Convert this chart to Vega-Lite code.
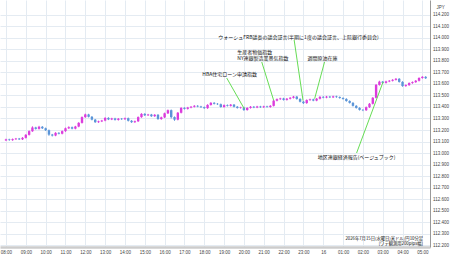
{
  "$schema": "https://vega.github.io/schema/vega-lite/v6.json",
  "width": 430,
  "height": 247,
  "autosize": {"type": "none"},
  "padding": {"left": 0, "top": 0, "right": 20, "bottom": 11},
  "background": "#ffffff",
  "config": {
    "view": {"stroke": null},
    "font": "Noto Sans CJK JP",
    "axis": {"labelFont": "Liberation Sans", "titleFont": "Liberation Sans", "labelOverlap": false, "labelSeparation": 0, "labelFlush": false, "tickCount": 40}
  },
  "datasets": {
    "candles": [
      {"t":480,"o":113.110,"h":113.124,"l":113.104,"c":113.118},
      {"t":490,"o":113.118,"h":113.124,"l":113.106,"c":113.112},
      {"t":500,"o":113.112,"h":113.126,"l":113.106,"c":113.120},
      {"t":510,"o":113.120,"h":113.131,"l":113.114,"c":113.125},
      {"t":520,"o":113.125,"h":113.131,"l":113.113,"c":113.119},
      {"t":530,"o":113.119,"h":113.138,"l":113.113,"c":113.132},
      {"t":540,"o":113.132,"h":113.164,"l":113.126,"c":113.158},
      {"t":550,"o":113.158,"h":113.196,"l":113.152,"c":113.190},
      {"t":560,"o":113.190,"h":113.232,"l":113.184,"c":113.222},
      {"t":570,"o":113.222,"h":113.228,"l":113.204,"c":113.210},
      {"t":580,"o":113.210,"h":113.236,"l":113.204,"c":113.228},
      {"t":590,"o":113.228,"h":113.234,"l":113.209,"c":113.215},
      {"t":600,"o":113.215,"h":113.221,"l":113.192,"c":113.198},
      {"t":610,"o":113.198,"h":113.204,"l":113.150,"c":113.160},
      {"t":620,"o":113.160,"h":113.166,"l":113.144,"c":113.152},
      {"t":630,"o":113.152,"h":113.181,"l":113.146,"c":113.175},
      {"t":640,"o":113.175,"h":113.181,"l":113.162,"c":113.168},
      {"t":650,"o":113.168,"h":113.196,"l":113.162,"c":113.190},
      {"t":660,"o":113.190,"h":113.221,"l":113.184,"c":113.215},
      {"t":670,"o":113.215,"h":113.232,"l":113.209,"c":113.224},
      {"t":680,"o":113.224,"h":113.230,"l":113.206,"c":113.212},
      {"t":690,"o":113.212,"h":113.236,"l":113.206,"c":113.230},
      {"t":700,"o":113.230,"h":113.268,"l":113.224,"c":113.262},
      {"t":710,"o":113.262,"h":113.318,"l":113.256,"c":113.312},
      {"t":720,"o":113.312,"h":113.342,"l":113.306,"c":113.335},
      {"t":730,"o":113.335,"h":113.341,"l":113.309,"c":113.315},
      {"t":740,"o":113.315,"h":113.321,"l":113.284,"c":113.290},
      {"t":750,"o":113.290,"h":113.296,"l":113.262,"c":113.268},
      {"t":760,"o":113.268,"h":113.281,"l":113.262,"c":113.275},
      {"t":770,"o":113.275,"h":113.288,"l":113.269,"c":113.282},
      {"t":780,"o":113.282,"h":113.311,"l":113.276,"c":113.305},
      {"t":790,"o":113.305,"h":113.311,"l":113.286,"c":113.292},
      {"t":800,"o":113.292,"h":113.306,"l":113.286,"c":113.300},
      {"t":810,"o":113.300,"h":113.306,"l":113.282,"c":113.288},
      {"t":820,"o":113.288,"h":113.304,"l":113.282,"c":113.298},
      {"t":830,"o":113.298,"h":113.304,"l":113.288,"c":113.294},
      {"t":840,"o":113.294,"h":113.308,"l":113.288,"c":113.302},
      {"t":850,"o":113.302,"h":113.308,"l":113.274,"c":113.280},
      {"t":860,"o":113.280,"h":113.286,"l":113.262,"c":113.268},
      {"t":870,"o":113.268,"h":113.282,"l":113.262,"c":113.276},
      {"t":880,"o":113.276,"h":113.318,"l":113.270,"c":113.312},
      {"t":890,"o":113.312,"h":113.346,"l":113.306,"c":113.340},
      {"t":900,"o":113.340,"h":113.346,"l":113.322,"c":113.328},
      {"t":910,"o":113.328,"h":113.340,"l":113.322,"c":113.334},
      {"t":920,"o":113.334,"h":113.340,"l":113.314,"c":113.320},
      {"t":930,"o":113.320,"h":113.338,"l":113.314,"c":113.332},
      {"t":940,"o":113.332,"h":113.338,"l":113.289,"c":113.295},
      {"t":950,"o":113.295,"h":113.316,"l":113.289,"c":113.310},
      {"t":960,"o":113.310,"h":113.351,"l":113.304,"c":113.345},
      {"t":970,"o":113.345,"h":113.378,"l":113.339,"c":113.372},
      {"t":980,"o":113.372,"h":113.378,"l":113.300,"c":113.312},
      {"t":990,"o":113.312,"h":113.318,"l":113.280,"c":113.290},
      {"t":1000,"o":113.290,"h":113.356,"l":113.284,"c":113.350},
      {"t":1010,"o":113.350,"h":113.398,"l":113.344,"c":113.392},
      {"t":1020,"o":113.392,"h":113.398,"l":113.378,"c":113.384},
      {"t":1030,"o":113.384,"h":113.401,"l":113.378,"c":113.395},
      {"t":1040,"o":113.395,"h":113.408,"l":113.389,"c":113.402},
      {"t":1050,"o":113.402,"h":113.416,"l":113.396,"c":113.410},
      {"t":1060,"o":113.410,"h":113.416,"l":113.398,"c":113.404},
      {"t":1070,"o":113.404,"h":113.410,"l":113.392,"c":113.398},
      {"t":1080,"o":113.398,"h":113.404,"l":113.384,"c":113.390},
      {"t":1090,"o":113.390,"h":113.424,"l":113.384,"c":113.418},
      {"t":1100,"o":113.418,"h":113.442,"l":113.412,"c":113.436},
      {"t":1110,"o":113.436,"h":113.442,"l":113.422,"c":113.428},
      {"t":1120,"o":113.428,"h":113.434,"l":113.418,"c":113.424},
      {"t":1130,"o":113.424,"h":113.430,"l":113.394,"c":113.400},
      {"t":1140,"o":113.400,"h":113.422,"l":113.394,"c":113.416},
      {"t":1150,"o":113.416,"h":113.422,"l":113.404,"c":113.410},
      {"t":1160,"o":113.410,"h":113.426,"l":113.404,"c":113.420},
      {"t":1170,"o":113.420,"h":113.426,"l":113.396,"c":113.402},
      {"t":1180,"o":113.402,"h":113.408,"l":113.386,"c":113.392},
      {"t":1190,"o":113.392,"h":113.402,"l":113.386,"c":113.396},
      {"t":1200,"o":113.396,"h":113.402,"l":113.366,"c":113.374},
      {"t":1210,"o":113.374,"h":113.398,"l":113.368,"c":113.392},
      {"t":1220,"o":113.392,"h":113.408,"l":113.386,"c":113.402},
      {"t":1230,"o":113.402,"h":113.408,"l":113.390,"c":113.396},
      {"t":1240,"o":113.396,"h":113.410,"l":113.390,"c":113.404},
      {"t":1250,"o":113.404,"h":113.410,"l":113.392,"c":113.398},
      {"t":1260,"o":113.398,"h":113.411,"l":113.392,"c":113.405},
      {"t":1270,"o":113.405,"h":113.411,"l":113.394,"c":113.400},
      {"t":1280,"o":113.400,"h":113.416,"l":113.394,"c":113.410},
      {"t":1290,"o":113.410,"h":113.461,"l":113.404,"c":113.455},
      {"t":1300,"o":113.455,"h":113.474,"l":113.449,"c":113.468},
      {"t":1310,"o":113.468,"h":113.480,"l":113.462,"c":113.474},
      {"t":1320,"o":113.474,"h":113.480,"l":113.456,"c":113.462},
      {"t":1330,"o":113.462,"h":113.478,"l":113.456,"c":113.472},
      {"t":1340,"o":113.472,"h":113.486,"l":113.466,"c":113.480},
      {"t":1350,"o":113.480,"h":113.496,"l":113.474,"c":113.490},
      {"t":1360,"o":113.490,"h":113.496,"l":113.464,"c":113.470},
      {"t":1370,"o":113.470,"h":113.476,"l":113.440,"c":113.446},
      {"t":1380,"o":113.446,"h":113.452,"l":113.426,"c":113.434},
      {"t":1390,"o":113.434,"h":113.466,"l":113.428,"c":113.460},
      {"t":1400,"o":113.460,"h":113.472,"l":113.454,"c":113.466},
      {"t":1410,"o":113.466,"h":113.472,"l":113.450,"c":113.456},
      {"t":1420,"o":113.456,"h":113.478,"l":113.450,"c":113.472},
      {"t":1430,"o":113.472,"h":113.494,"l":113.466,"c":113.488},
      {"t":1440,"o":113.488,"h":113.494,"l":113.476,"c":113.482},
      {"t":1450,"o":113.482,"h":113.496,"l":113.476,"c":113.490},
      {"t":1460,"o":113.490,"h":113.496,"l":113.478,"c":113.484},
      {"t":1470,"o":113.484,"h":113.498,"l":113.478,"c":113.492},
      {"t":1480,"o":113.492,"h":113.498,"l":113.480,"c":113.486},
      {"t":1490,"o":113.486,"h":113.492,"l":113.472,"c":113.478},
      {"t":1500,"o":113.478,"h":113.484,"l":113.464,"c":113.470},
      {"t":1510,"o":113.470,"h":113.476,"l":113.446,"c":113.452},
      {"t":1520,"o":113.452,"h":113.458,"l":113.430,"c":113.436},
      {"t":1530,"o":113.436,"h":113.442,"l":113.404,"c":113.410},
      {"t":1540,"o":113.410,"h":113.416,"l":113.386,"c":113.392},
      {"t":1550,"o":113.392,"h":113.398,"l":113.369,"c":113.375},
      {"t":1560,"o":113.375,"h":113.381,"l":113.364,"c":113.372},
      {"t":1570,"o":113.372,"h":113.404,"l":113.366,"c":113.398},
      {"t":1580,"o":113.398,"h":113.434,"l":113.392,"c":113.428},
      {"t":1590,"o":113.428,"h":113.486,"l":113.422,"c":113.480},
      {"t":1600,"o":113.480,"h":113.600,"l":113.474,"c":113.592},
      {"t":1610,"o":113.592,"h":113.628,"l":113.586,"c":113.620},
      {"t":1620,"o":113.620,"h":113.626,"l":113.604,"c":113.610},
      {"t":1630,"o":113.610,"h":113.628,"l":113.604,"c":113.622},
      {"t":1640,"o":113.622,"h":113.634,"l":113.616,"c":113.628},
      {"t":1650,"o":113.628,"h":113.642,"l":113.622,"c":113.636},
      {"t":1660,"o":113.636,"h":113.651,"l":113.630,"c":113.645},
      {"t":1670,"o":113.645,"h":113.651,"l":113.612,"c":113.618},
      {"t":1680,"o":113.618,"h":113.624,"l":113.576,"c":113.582},
      {"t":1690,"o":113.582,"h":113.596,"l":113.576,"c":113.590},
      {"t":1700,"o":113.590,"h":113.614,"l":113.584,"c":113.608},
      {"t":1710,"o":113.608,"h":113.622,"l":113.602,"c":113.616},
      {"t":1720,"o":113.616,"h":113.634,"l":113.610,"c":113.628},
      {"t":1730,"o":113.628,"h":113.658,"l":113.622,"c":113.652},
      {"t":1740,"o":113.652,"h":113.668,"l":113.646,"c":113.662},
      {"t":1750,"o":113.662,"h":113.668,"l":113.644,"c":113.650}
    ],
    "links": [
      {"t1":1148,"p1":113.652,"t2":1201,"p2":113.385},
      {"t1":1254,"p1":113.791,"t2":1290,"p2":113.458},
      {"t1":1352,"p1":113.983,"t2":1379,"p2":113.455},
      {"t1":1444,"p1":113.791,"t2":1414,"p2":113.472},
      {"t1":1621,"p1":113.617,"t2":1541,"p2":113.000}
    ],
    "notesCenter": [
      {"t":1157,"p":113.687,"label":"HBA住宅ローン申請指数"},
      {"t":1365,"p":114.009,"label":"ウォーシュFRB議長の議会証言(半期に1度の議会証言、上院銀行委員会)"},
      {"t":1438,"p":113.826,"label":"週間原油在庫"},
      {"t":1541,"p":112.965,"label":"地区連銀経済報告(ベージュブック)"}
    ],
    "notesLeft": [
      {"t":1180,"p":113.874,"label":"生産者物価指数"},
      {"t":1180,"p":113.826,"label":"NY連銀製造業景気指数"}
    ],
    "notesRight": [
      {"t":1742,"p":112.256,"label":"2026年7月15日(水曜日)米ドル/円10分足"},
      {"t":1742,"p":112.205,"label":"[ワテ観測用200pips幅]"}
    ]
  },
  "layer": [
    {
      "data": {"name": "candles"},
      "mark": {"type": "rule", "strokeWidth": 1, "clip": true},
      "encoding": {
        "x": {
          "field": "t", "type": "quantitative",
          "scale": {"domain": [477, 1748], "nice": false, "zero": false},
          "axis": {
            "orient": "bottom", "title": null, "tickCount": 40,
            "values": [480,540,600,660,720,780,840,900,960,1020,1080,1140,1200,1260,1320,1380,1440,1500,1560,1620,1680,1740],
            "labelExpr": "datum.value == 1440 ? '16' : format(floor(datum.value / 60) % 24, '02d') + ':00'",
            "labelFontSize": 4.5, "labelColor": "#444444", "labelPadding": 2,
            "ticks": false, "domainColor": "#cccccc", "domainWidth": 2.5,
            "grid": true, "gridColor": "#e4ebf2", "gridWidth": 1,
            "labelOverlap": false, "labelFlush": false, "labelSeparation": 0
          }
        },
        "y": {
          "field": "l", "type": "quantitative",
          "scale": {"domain": [112.183, 114.33], "nice": false, "zero": false},
          "axis": {
            "orient": "right", "title": "JPY", "tickCount": 40,
            "titleAngle": 0, "titleX": 6, "titleY": 7, "titleAlign": "left", "titleBaseline": "middle",
            "titleFontSize": 4.5, "titleFontWeight": "normal", "titleColor": "#444444",
            "values": [112.2,112.3,112.4,112.5,112.6,112.7,112.8,112.9,113.0,113.1,113.2,113.3,113.4,113.5,113.6,113.7,113.8,113.9,114.0,114.1,114.2],
            "format": ".3f",
            "labelFontSize": 4.5, "labelColor": "#444444", "labelPadding": 2.5,
            "ticks": false, "domainColor": "#999999", "domainWidth": 1,
            "grid": true, "gridColor": "#e4ebf2", "gridWidth": 1,
            "labelOverlap": false, "labelSeparation": 0
          }
        },
        "y2": {"field": "h"},
        "color": {
          "condition": {"test": "datum.c >= datum.o", "value": "#dc3cdc"},
          "value": "#5b95d8"
        }
      }
    },
    {
      "data": {"name": "candles"},
      "mark": {"type": "bar", "size": 2.4, "clip": true},
      "encoding": {
        "x": {"field": "t", "type": "quantitative", "scale": {"domain": [477, 1748], "nice": false, "zero": false}},
        "y": {"field": "o", "type": "quantitative", "scale": {"domain": [112.183, 114.33], "nice": false, "zero": false}},
        "y2": {"field": "c"},
        "color": {
          "condition": {"test": "datum.c >= datum.o", "value": "#dc3cdc"},
          "value": "#5b95d8"
        }
      }
    },
    {
      "data": {"name": "links"},
      "mark": {"type": "rule", "strokeWidth": 1, "color": "#66dd55"},
      "encoding": {
        "x": {"field": "t1", "type": "quantitative", "scale": {"domain": [477, 1748], "nice": false, "zero": false}},
        "y": {"field": "p1", "type": "quantitative", "scale": {"domain": [112.183, 114.33], "nice": false, "zero": false}},
        "x2": {"field": "t2"},
        "y2": {"field": "p2"}
      }
    },
    {
      "data": {"name": "notesCenter"},
      "mark": {"type": "text", "fontSize": 5, "align": "center", "baseline": "middle", "color": "#111111", "font": "Noto Sans CJK JP"},
      "encoding": {
        "x": {"field": "t", "type": "quantitative", "scale": {"domain": [477, 1748], "nice": false, "zero": false}},
        "y": {"field": "p", "type": "quantitative", "scale": {"domain": [112.183, 114.33], "nice": false, "zero": false}},
        "text": {"field": "label"}
      }
    },
    {
      "data": {"name": "notesLeft"},
      "mark": {"type": "text", "fontSize": 5, "align": "left", "baseline": "middle", "color": "#111111", "font": "Noto Sans CJK JP"},
      "encoding": {
        "x": {"field": "t", "type": "quantitative", "scale": {"domain": [477, 1748], "nice": false, "zero": false}},
        "y": {"field": "p", "type": "quantitative", "scale": {"domain": [112.183, 114.33], "nice": false, "zero": false}},
        "text": {"field": "label"}
      }
    },
    {
      "data": {"name": "notesRight"},
      "mark": {"type": "text", "fontSize": 4.3, "align": "right", "baseline": "middle", "color": "#111111", "font": "Noto Sans CJK JP"},
      "encoding": {
        "x": {"field": "t", "type": "quantitative", "scale": {"domain": [477, 1748], "nice": false, "zero": false}},
        "y": {"field": "p", "type": "quantitative", "scale": {"domain": [112.183, 114.33], "nice": false, "zero": false}},
        "text": {"field": "label"}
      }
    }
  ]
}
